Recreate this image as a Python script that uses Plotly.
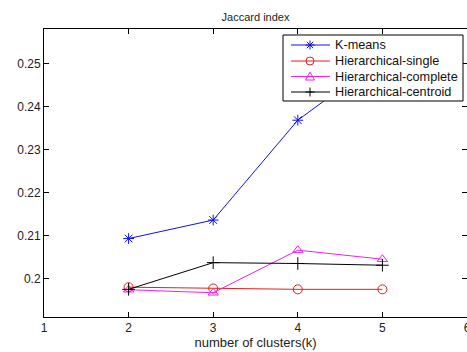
import plotly.graph_objects as go

# Jaccard index vs. number of clusters for four clustering methods
clusters = [2, 3, 4, 5]
kmeans = [0.2093, 0.2136, 0.2368, 0.2513]
hier_single = [0.1980, 0.1977, 0.1975, 0.1975]
hier_complete = [0.1974, 0.1967, 0.2066, 0.2045]
hier_centroid = [0.1975, 0.2037, 0.2035, 0.2031]

x_ticks = [1, 2, 3, 4, 5, 6]
y_ticks = [0.20, 0.21, 0.22, 0.23, 0.24, 0.25]
y_tick_text = ["0.2", "0.21", "0.22", "0.23", "0.24", "0.25"]

series = [
    ("K-means", kmeans, "#1010f0", "asterisk-open", "star"),
    ("Hierarchical-single", hier_single, "#e02020", "circle-open", "circle"),
    ("Hierarchical-complete", hier_complete, "#f020f0", "triangle-up-open", "triangle"),
    ("Hierarchical-centroid", hier_centroid, "#000000", "cross-thin-open", "plus"),
]

W, H = 467, 352
ML, MR, MT, MB = 44, 0, 29, 35
PW, PH = W - ML - MR, H - MT - MB


def paper_x(px):
    return (px - ML) / PW


def paper_y(py):
    return (H - MB - py) / PH


fig = go.Figure()
for name, vals, color, symbol, _ in series:
    fig.add_trace(go.Scatter(
        x=clusters, y=vals, name=name, mode="lines+markers",
        line=dict(color=color, width=1),
        marker=dict(symbol=symbol, size=9, color=color,
                    line=dict(color=color, width=1)),
        showlegend=False,
    ))

font_family = "Liberation Sans, Arial, sans-serif"

# Boxed legend in the upper right, drawn over the curves
shapes = [dict(type="rect", xref="paper", yref="paper",
               x0=paper_x(283), x1=paper_x(463), y0=paper_y(101), y1=paper_y(35),
               fillcolor="white", line=dict(color="black", width=1), layer="above")]
annotations = []
row_y = [45, 61, 76.5, 92]
for (name, _, color, _, glyph), py in zip(series, row_y):
    ay = paper_y(py)
    ax = paper_x(310)
    shapes.append(dict(type="line", xref="paper", yref="paper",
                       x0=paper_x(291), x1=paper_x(330), y0=ay, y1=ay,
                       line=dict(color=color, width=1), layer="above"))
    common = dict(xref="paper", yref="paper", xsizemode="pixel", ysizemode="pixel",
                  xanchor=ax, yanchor=ay, line=dict(color=color, width=1), layer="above")
    if glyph == "star":
        for dx, dy in [(4.5, 0), (0, 4.5), (3.2, 3.2), (3.2, -3.2)]:
            shapes.append(dict(type="line", x0=-dx, x1=dx, y0=-dy, y1=dy, **common))
    elif glyph == "plus":
        for dx, dy in [(4.5, 0), (0, 4.5)]:
            shapes.append(dict(type="line", x0=-dx, x1=dx, y0=-dy, y1=dy, **common))
    elif glyph == "circle":
        shapes.append(dict(type="circle", x0=-4, x1=4, y0=-4, y1=4, **common))
    elif glyph == "triangle":
        shapes.append(dict(type="path", path="M 0 4.5 L -4.5 -3.5 L 4.5 -3.5 Z", **common))
    annotations.append(dict(xref="paper", yref="paper", x=paper_x(333), y=ay,
                            xanchor="left", yanchor="middle", showarrow=False,
                            text=name,
                            font=dict(family=font_family, size=12.7, color="#111111")))

axis_common = dict(
    showline=True, linecolor="black", linewidth=1, mirror="ticks",
    ticks="inside", ticklen=5, tickcolor="black", tickwidth=1,
    showgrid=False, zeroline=False, automargin=False,
    tickfont=dict(family=font_family, size=12, color="#222222"),
)

fig.update_layout(
    width=W, height=H,
    margin=dict(l=ML, r=MR, t=MT, b=MB),
    paper_bgcolor="white", plot_bgcolor="white",
    title=dict(text="Jaccard index", x=0.5, xanchor="center", y=0.952, yanchor="middle",
               xref="paper",
               font=dict(family=font_family, size=11, color="#222222")),
    xaxis=dict(range=[1, 6], tickvals=x_ticks, ticklabeloverflow="allow",
               title=dict(text="number of clusters(k)", standoff=2,
                          font=dict(family=font_family, size=13, color="#222222")),
               **axis_common),
    yaxis=dict(range=[0.19107, 0.2580], tickvals=y_ticks, ticktext=y_tick_text,
               **axis_common),
    shapes=shapes,
    annotations=annotations,
    showlegend=False,
)

fig.write_html("out.html")
